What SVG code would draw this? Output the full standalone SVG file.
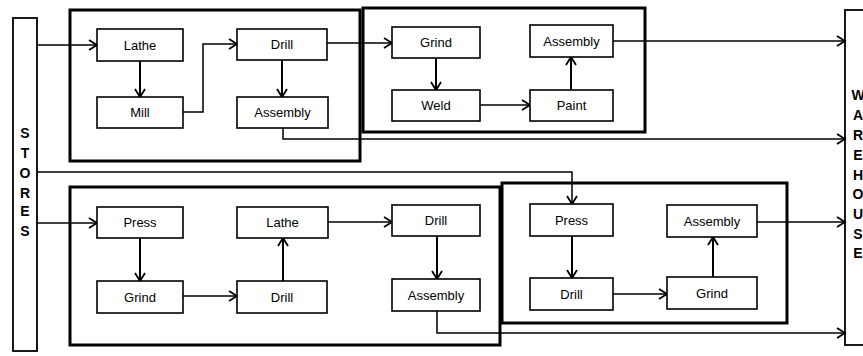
<svg xmlns="http://www.w3.org/2000/svg" width="863" height="356" viewBox="0 0 863 356">
<style>
.sys{fill:none;stroke:#000;stroke-width:3}
.node rect{fill:#fff;stroke:#000;stroke-width:1.6}
.node text{font-family:"Liberation Sans",Arial,sans-serif;font-size:13px;text-anchor:middle;dominant-baseline:central;fill:#000}
.bar{fill:#fff;stroke:#000;stroke-width:1.8}
.lt{font-family:"Liberation Sans",Arial,sans-serif;font-size:14px;font-weight:bold;text-anchor:middle;dominant-baseline:central;fill:#000}
.c path{fill:none;stroke:#000;stroke-width:1.5;marker-end:url(#ah)}
.c path.v{stroke-width:2}
</style>
<defs>
<marker id="ah" markerUnits="userSpaceOnUse" markerWidth="12" markerHeight="12" refX="9" refY="6" orient="auto">
<path d="M1,1 L9,6 L1,11" fill="none" stroke="#000" stroke-width="1.8"/>
</marker>
</defs>
<rect width="863" height="356" fill="#fff"/>
<g id="systems">
<rect class="sys" x="70" y="10" width="290" height="151"/>
<rect class="sys" x="363" y="8" width="282" height="124"/>
<rect class="sys" x="70" y="187" width="430" height="158"/>
<rect class="sys" x="502" y="183" width="285" height="140"/>
</g>
<g id="stores">
<rect class="bar" x="13" y="18" width="24" height="333"/>
<text class="lt" x="25" y="133">S</text>
<text class="lt" x="25" y="153">T</text>
<text class="lt" x="25" y="173">O</text>
<text class="lt" x="25" y="193">R</text>
<text class="lt" x="25" y="211">E</text>
<text class="lt" x="25" y="231">S</text>
</g>
<g id="warehouse">
<rect class="bar" x="845" y="10" width="40" height="335"/>
<text class="lt" x="858" y="95">W</text>
<text class="lt" x="858" y="115">A</text>
<text class="lt" x="858" y="135">R</text>
<text class="lt" x="858" y="155">E</text>
<text class="lt" x="858" y="175">H</text>
<text class="lt" x="858" y="194">O</text>
<text class="lt" x="858" y="214">U</text>
<text class="lt" x="858" y="234">S</text>
<text class="lt" x="858" y="253">E</text>
</g>
<g id="connectors" class="c">
<path d="M37,45 H97"/>
<path class="v" d="M140,61 V97"/>
<path d="M183,112 H203 V44 H237"/>
<path class="v" d="M282,60 V97"/>
<path d="M327,43 H392"/>
<path class="v" d="M436,58 V90"/>
<path d="M480,105 H530"/>
<path class="v" d="M571,90 V57"/>
<path d="M613,41 H845"/>
<path d="M283,128 V139 H845"/>
<path d="M37,172 H572 V204"/>
<path d="M37,223 H97"/>
<path class="v" d="M140,238 V281"/>
<path d="M183,296 H237"/>
<path class="v" d="M283,281 V238"/>
<path d="M328,222 H392"/>
<path class="v" d="M437,236 V279"/>
<path d="M437,311 V333 H845"/>
<path class="v" d="M572,236 V278"/>
<path d="M613,294 H667"/>
<path class="v" d="M713,277 V237"/>
<path d="M757,222 H845"/>
</g>
<g id="lathe1" class="node"><rect x="97" y="29" width="86" height="32"/><text x="140" y="45">Lathe</text></g>
<g id="mill1" class="node"><rect x="97" y="97" width="86" height="31"/><text x="140" y="112.5">Mill</text></g>
<g id="drill1" class="node"><rect x="237" y="29" width="90" height="31"/><text x="282" y="44.5">Drill</text></g>
<g id="assembly1" class="node"><rect x="237" y="97" width="91" height="31"/><text x="282.5" y="112.5">Assembly</text></g>
<g id="grind1" class="node"><rect x="392" y="27" width="88" height="31"/><text x="436" y="42.5">Grind</text></g>
<g id="weld1" class="node"><rect x="392" y="90" width="88" height="31"/><text x="436" y="105.5">Weld</text></g>
<g id="paint1" class="node"><rect x="530" y="90" width="83" height="31"/><text x="571.5" y="105.5">Paint</text></g>
<g id="assembly2" class="node"><rect x="530" y="25" width="83" height="32"/><text x="571.5" y="41">Assembly</text></g>
<g id="press1" class="node"><rect x="97" y="207" width="86" height="31"/><text x="140" y="222.5">Press</text></g>
<g id="grind2" class="node"><rect x="97" y="281" width="86" height="32"/><text x="140" y="297">Grind</text></g>
<g id="drill2" class="node"><rect x="237" y="281" width="90" height="32"/><text x="282" y="297">Drill</text></g>
<g id="lathe2" class="node"><rect x="237" y="207" width="91" height="31"/><text x="282.5" y="222.5">Lathe</text></g>
<g id="drill3" class="node"><rect x="392" y="205" width="88" height="31"/><text x="436" y="220.5">Drill</text></g>
<g id="assembly3" class="node"><rect x="392" y="279" width="88" height="32"/><text x="436" y="295">Assembly</text></g>
<g id="press2" class="node"><rect x="530" y="204" width="83" height="32"/><text x="571.5" y="220">Press</text></g>
<g id="drill4" class="node"><rect x="530" y="278" width="83" height="32"/><text x="571.5" y="294">Drill</text></g>
<g id="grind3" class="node"><rect x="667" y="277" width="90" height="32"/><text x="712" y="293">Grind</text></g>
<g id="assembly4" class="node"><rect x="667" y="205" width="90" height="32"/><text x="712" y="221">Assembly</text></g>
</svg>
